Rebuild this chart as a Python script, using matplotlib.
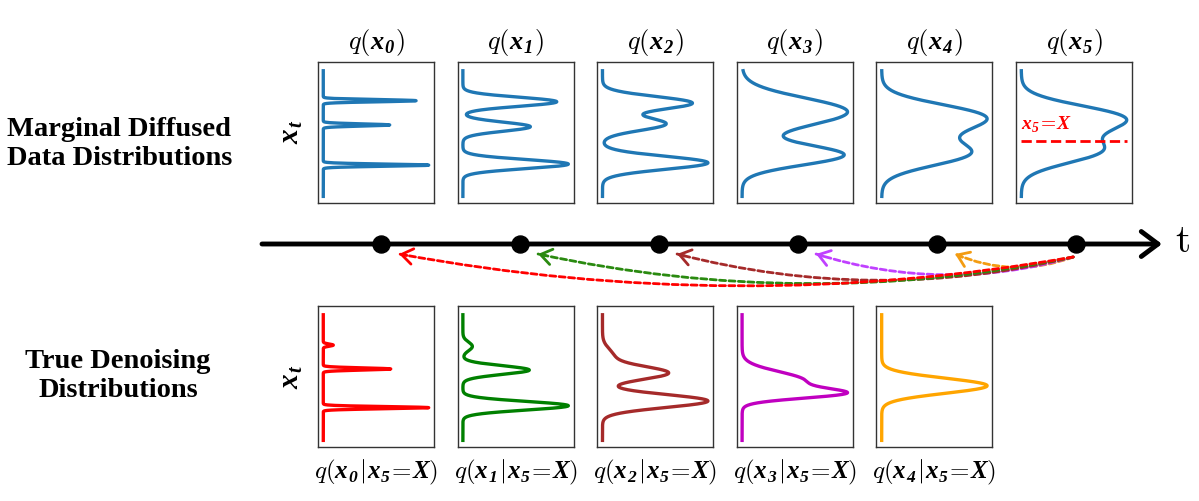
import numpy as np
import matplotlib
matplotlib.use("Agg")
import matplotlib.pyplot as plt
from matplotlib.patches import FancyArrowPatch

plt.rcParams["mathtext.fontset"] = "custom"
plt.rcParams["mathtext.rm"] = "cmr10"
plt.rcParams["mathtext.it"] = "cmmi10"
plt.rcParams["mathtext.bf"] = "cmb10"
plt.rcParams["mathtext.bfit"] = "Liberation Serif:italic:bold"
plt.rcParams["mathtext.fallback"] = "cm"

# ---- data ----
steps = [0, 1, 2, 3, 4, 5]
X_VALUE = -0.35  # observed x_5

# marginal q(x_t): gaussian bumps (centre in x_t units, relative height, width)
top_centers = [
    [1.53, 0.40, -1.47],
    [1.48, 0.32, -1.42],
    [1.42, 0.45, -1.36],
    [1.05, 0.30, -1.00],
    [0.85, 0.10, -0.95],
    [0.80, 0.10, -0.85],
]
top_heights = [
    [0.88, 0.63, 1.00],
    [0.89, 0.64, 1.00],
    [0.85, 0.60, 1.00],
    [0.95, 0.10, 0.95],
    [0.85, 0.35, 0.80],
    [0.90, 0.35, 0.75],
]
top_widths = [
    [0.05, 0.05, 0.05],
    [0.21, 0.21, 0.21],
    [0.30, 0.30, 0.30],
    [0.62, 0.55, 0.46],
    [0.55, 0.55, 0.55],
    [0.55, 0.55, 0.55],
]

# conditional q(x_t | x_5 = X)
cond_centers = [
    [1.51, 0.40, -1.40],
    [1.45, 0.35, -1.31],
    [1.00, 0.21, -1.09],
    [-0.15, -0.75],
    [-0.38],
]
cond_heights = [
    [0.095, 0.64, 1.00],
    [0.09, 0.63, 1.00],
    [0.10, 0.62, 1.00],
    [0.65, 0.85],
    [1.00],
]
cond_widths = [
    [0.05, 0.05, 0.05],
    [0.20, 0.20, 0.20],
    [0.35, 0.30, 0.30],
    [0.42, 0.22],
    [0.35],
]
cond_colors = ["red", "green", "#a52a2a", "#c000c0", "#ffa500"]
arrow_colors = ["red", "#2a8a10", "#a52a2a", "#c040ff", "#f39c12"]
arrow_rads = [-0.09, -0.105, -0.125, -0.15, -0.2]

# ---- layout (pixels) ----
W, H = 1199, 501
PANEL_X0, PANEL_DX, PANEL_W, PANEL_H = 318, 139.6, 116, 141
TOP_Y, BOT_Y = 62, 306
grid = np.linspace(-3, 3, 800)


def bumps(centers, heights, widths):
    d = sum(h * np.exp(-0.5 * ((grid - c) / s) ** 2) for c, h, s in zip(centers, heights, widths))
    return d / d.max()


def add_panel(i, y_top):
    left = (PANEL_X0 + i * PANEL_DX) / W
    bottom = 1 - (y_top + PANEL_H) / H
    ax = fig.add_axes([left, bottom, PANEL_W / W, PANEL_H / H])
    ax.set_xlim(-0.05, 1.05)
    ax.set_ylim(-3.23, 3.33)
    ax.set_xticks([])
    ax.set_yticks([])
    for sp in ax.spines.values():
        sp.set_color("#333333")
        sp.set_linewidth(1.0)
    return ax


def ftext(x, y, s, **kw):
    fig.text(x / W, 1 - y / H, s, **kw)


def bx(sub):
    return r"\mathbfit{x}_{\mathbfit{%s}}" % sub


fig = plt.figure(figsize=(W / 100, H / 100), dpi=100)

# top row: marginals
for i, t in enumerate(steps):
    ax = add_panel(i, TOP_Y)
    ax.plot(bumps(top_centers[i], top_heights[i], top_widths[i]), grid,
            color="#1f77b4", lw=2.4, solid_capstyle="butt")
    cx = PANEL_X0 + i * PANEL_DX + PANEL_W / 2
    ftext(cx, 42, r"$q(%s)$" % bx(t), ha="center", va="center", fontsize=19)
    if t == steps[-1]:
        ax.hlines(X_VALUE, 0, 1.0, colors="red", linestyles="--", lw=2)
        ax.text(0.0, 0.42, r"$%s\!=\!\mathbfit{X}$" % bx(5), color="red",
                fontsize=14, ha="left", va="center")

# bottom row: conditionals
for i in range(len(cond_centers)):
    ax = add_panel(i, BOT_Y)
    ax.plot(bumps(cond_centers[i], cond_heights[i], cond_widths[i]), grid,
            color=cond_colors[i], lw=2.4, solid_capstyle="butt")
    cx = PANEL_X0 + i * PANEL_DX + PANEL_W / 2
    ftext(cx, 472, r"$q(%s\!\mid\!%s\!=\!\mathbfit{X})$" % (bx(steps[i]), bx(5)),
          ha="center", va="center", fontsize=18)

# row labels
ftext(7, 144, "Marginal Diffused\nData Distributions", ha="left", va="center",
      fontsize=20.5, fontweight="bold", family="Liberation Serif", linespacing=1.2)
ftext(118, 376, "True Denoising\nDistributions", ha="center", va="center",
      fontsize=20.5, fontweight="bold", family="Liberation Serif", linespacing=1.2)
ftext(291, 132, r"$%s$" % bx("t"), ha="center", va="center", fontsize=21, rotation=90)
ftext(291, 377, r"$%s$" % bx("t"), ha="center", va="center", fontsize=21, rotation=90)

# timeline
T0_PX, DT_PX = 381, 139
ax_t = fig.add_axes([0, 1 - 300 / H, 1, 100 / H])
ax_t.set_xlim(-T0_PX / DT_PX, (W - T0_PX) / DT_PX)
ax_t.set_ylim(-56, 44)
ax_t.axis("off")
ax_t.annotate("", xy=((1162 - T0_PX) / DT_PX, 0), xytext=((262 - T0_PX) / DT_PX, 0),
              arrowprops=dict(arrowstyle="->,head_length=0.6,head_width=0.45", lw=3.5,
                              color="black", shrinkA=0, shrinkB=0, mutation_scale=20))
ax_t.scatter(steps, np.zeros(len(steps)), s=150, color="black", zorder=3)
ax_t.text((1182 - T0_PX) / DT_PX, 3, r"$\mathrm{t}$", fontsize=28, ha="center", va="center")

# dashed arrows from x_5 back to each earlier step
start = np.array([steps[-1] - 0.02, -13.0])
for k in range(len(steps) - 2, -1, -1):
    end = np.array([steps[k] + 0.13, -10.0])
    rad = arrow_rads[k]
    ax_t.add_patch(FancyArrowPatch(start, end, connectionstyle=f"arc3,rad={rad}",
                                   arrowstyle="-", color=arrow_colors[k], lw=2,
                                   linestyle=(0, (2.2, 1.2)), shrinkA=0, shrinkB=0, zorder=2))
    # solid head along the arc tangent at the end point
    p1, p2 = ax_t.transData.transform([start, end])
    mid = (p1 + p2) / 2
    dx, dy = p2 - p1
    ctrl = mid + rad * np.array([dy, -dx])
    direc = (p2 - ctrl) / np.linalg.norm(p2 - ctrl)
    back = ax_t.transData.inverted().transform(p2 - direc * 8)
    ax_t.add_patch(FancyArrowPatch(back, end, arrowstyle="->,head_length=0.4,head_width=0.28",
                                   mutation_scale=20, color=arrow_colors[k], lw=2,
                                   shrinkA=0, shrinkB=0, zorder=2))

fig.savefig("out.png", dpi=100)
